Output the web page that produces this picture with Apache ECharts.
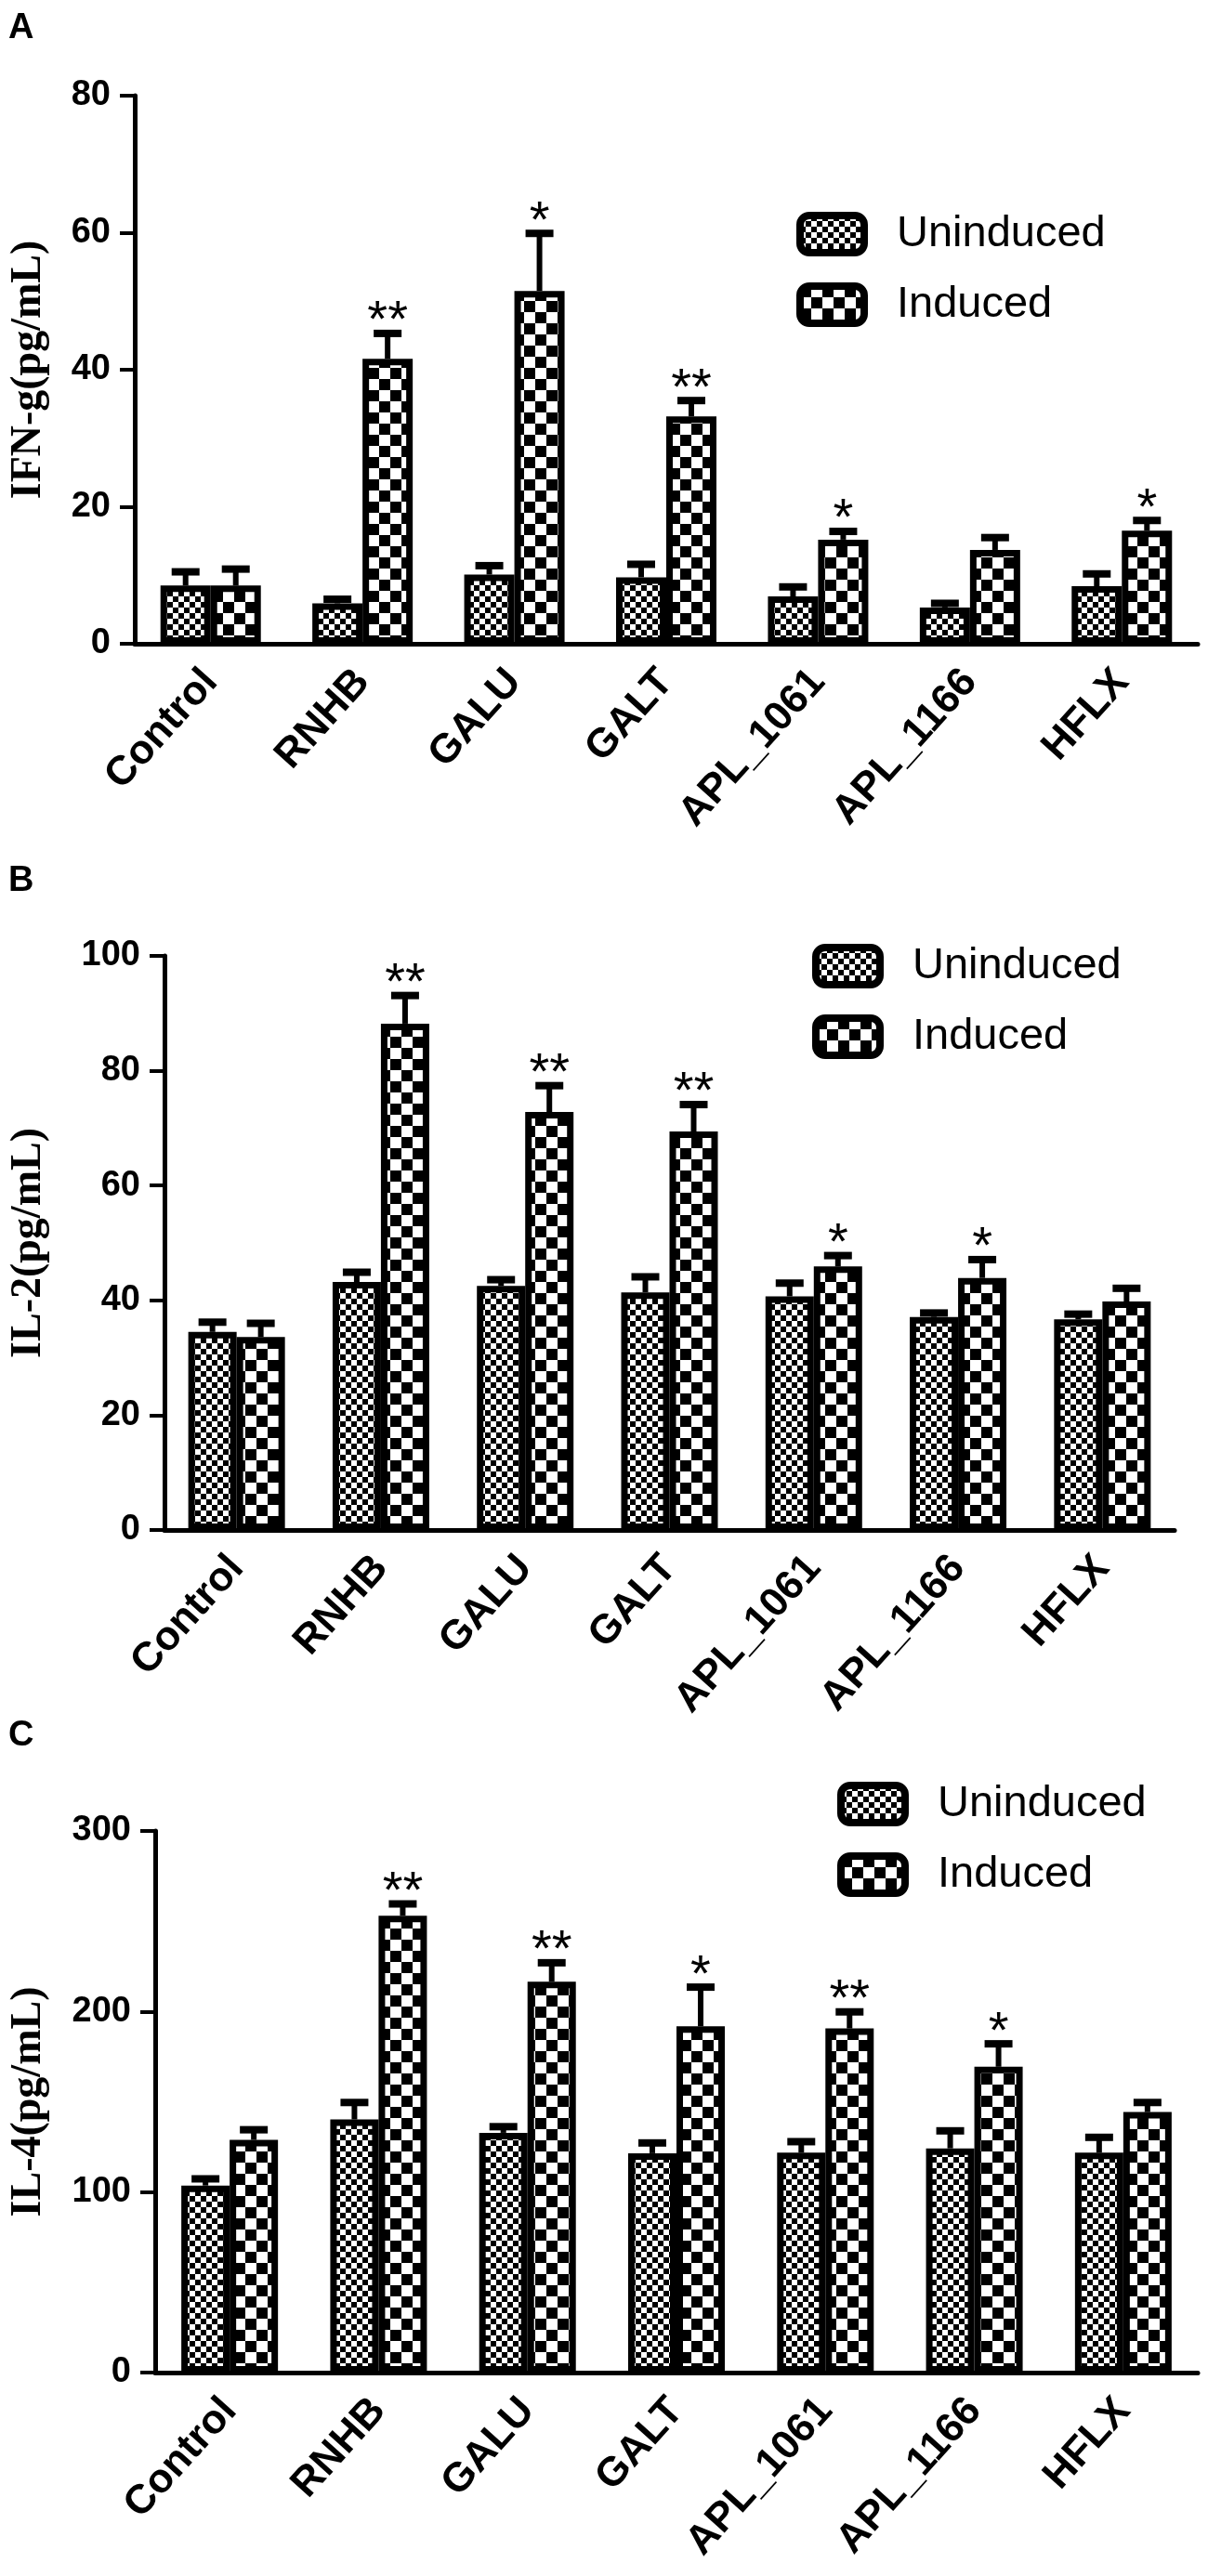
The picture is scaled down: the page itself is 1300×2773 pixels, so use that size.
<!DOCTYPE html>
<html>
<head>
<meta charset="utf-8">
<style>
html,body{margin:0;padding:0;background:#fff;}
#chart{width:1300px;height:2773px;}
</style>
<script src="https://cdn.jsdelivr.net/npm/echarts@6/dist/echarts.min.js"></script>
</head>
<body>
<div id="chart"></div>
<script>
// ---------- data ----------
const categories = ['Control', 'RNHB', 'GALU', 'GALT', 'APL_1061', 'APL_1166', 'HFLX'];
const seriesNames = ['Uninduced', 'Induced'];

// Panel A: IFN-g (pg/mL)
const ifnUninduced = [8.5, 5.9, 10.1, 9.7, 6.9, 5.3, 8.4];
const ifnUninducedSem = [2.0, 0.6, 1.3, 1.9, 1.4, 0.6, 1.8];
const ifnInduced = [8.5, 41.6, 51.5, 33.2, 15.2, 13.7, 16.5];
const ifnInducedSem = [2.4, 3.7, 8.4, 2.3, 1.2, 1.8, 1.5];
const ifnStars = ['', '**', '*', '**', '*', '', '*'];
const ifnTicks = [0, 20, 40, 60, 80];

// Panel B: IL-2 (pg/mL)
const il2Uninduced = [34.5, 43.2, 42.5, 41.4, 40.7, 37.1, 36.7];
const il2UninducedSem = [1.7, 1.7, 1.1, 2.7, 2.3, 0.7, 0.9];
const il2Induced = [33.6, 88.2, 72.8, 69.4, 45.9, 43.9, 39.8];
const il2InducedSem = [2.4, 4.9, 4.6, 4.7, 1.9, 3.2, 2.3];
const il2Stars = ['', '**', '**', '**', '*', '*', ''];
const il2Ticks = [0, 20, 40, 60, 80, 100];

// Panel C: IL-4 (pg/mL)
const il4Uninduced = [103.6, 140.2, 132.8, 121.5, 121.8, 124.2, 121.8];
const il4UninducedSem = [3.7, 9.4, 3.4, 5.7, 6.1, 9.7, 8.5];
const il4Induced = [128.9, 253.1, 216.5, 191.8, 190.6, 169.4, 144.3];
const il4InducedSem = [5.6, 6.5, 10.5, 21.7, 9.2, 12.7, 5.3];
const il4Stars = ['', '**', '**', '*', '**', '*', ''];
const il4Ticks = [0, 100, 200, 300];

// ---------- styling helpers ----------
function checker(size) {
  const c = document.createElement('canvas');
  c.width = c.height = size * 2;
  const g = c.getContext('2d');
  g.fillStyle = '#fff'; g.fillRect(0, 0, size * 2, size * 2);
  g.fillStyle = '#000';
  g.fillRect(0, 0, size, size);
  g.fillRect(size, size, size, size);
  return c;
}
const fineFill = { image: checker(6), repeat: 'repeat' };
const coarseFill = { image: checker(12), repeat: 'repeat' };

const SANS = 'Liberation Sans';
const SERIF = 'Liberation Serif';

const panels = [
  { letter: 'A', letterTop: 12, name: 'IFN-g(pg/mL)', grid: { left: 141, right: 11, top: 103, bottom: 2773 - 693 },
    ticks: ifnTicks, U: ifnUninduced, Us: ifnUninducedSem, I: ifnInduced, Is: ifnInducedSem, stars: ifnStars,
    bw: 54, nameGap: 91, legend: { left: 857, top: 228 } },
  { letter: 'B', letterTop: 930, name: 'IL-2(pg/mL)', grid: { left: 173, right: 36, top: 1029, bottom: 2773 - 1647 },
    ticks: il2Ticks, U: il2Uninduced, Us: il2UninducedSem, I: il2Induced, Is: il2InducedSem, stars: il2Stars,
    bw: 52, nameGap: 123, legend: { left: 874, top: 1016 } },
  { letter: 'C', letterTop: 1850, name: 'IL-4(pg/mL)', grid: { left: 163, right: 11, top: 1971, bottom: 2773 - 2554 },
    ticks: il4Ticks, U: il4Uninduced, Us: il4UninducedSem, I: il4Induced, Is: il4InducedSem, stars: il4Stars,
    bw: 52, nameGap: 113, legend: { left: 901, top: 1918 } }
];

const option = {
  backgroundColor: '#fff',
  animation: false,
  grid: [], xAxis: [], yAxis: [], series: [], legend: [], graphic: []
};

panels.forEach((p, k) => {
  option.grid.push(Object.assign({ containLabel: false }, p.grid));
  option.xAxis.push({
    type: 'category', gridIndex: k, data: categories,
    axisLine: { lineStyle: { color: '#000', width: 5 } },
    axisTick: { alignWithLabel: true, length: 16, lineStyle: { color: '#000', width: 4 } },
    axisLabel: { rotate: 48, interval: 0, margin: 34, fontSize: 44, fontWeight: 'bold', fontFamily: SANS, color: '#000' }
  });
  const mx = p.ticks[p.ticks.length - 1];
  option.yAxis.push({
    type: 'value', gridIndex: k, min: p.ticks[0], max: mx, interval: p.ticks[1] - p.ticks[0],
    name: p.name, nameLocation: 'middle', nameRotate: 90, nameGap: p.nameGap,
    nameTextStyle: { fontFamily: SERIF, fontWeight: 'bold', fontSize: 46, color: '#000' },
    splitLine: { show: false },
    axisLine: { show: true, lineStyle: { color: '#000', width: 5 } },
    axisTick: { show: true, length: 16, lineStyle: { color: '#000', width: 4 } },
    axisLabel: { margin: 26, fontSize: 38, fontWeight: 'bold', fontFamily: SANS, color: '#000' }
  });
  const groups = [
    { name: seriesNames[0], vals: p.U, sem: p.Us, fill: fineFill, side: -1, stars: null },
    { name: seriesNames[1], vals: p.I, sem: p.Is, fill: coarseFill, side: 1, stars: p.stars }
  ];
  groups.forEach(g => {
    option.series.push({
      type: 'bar', name: g.name, xAxisIndex: k, yAxisIndex: k,
      data: g.vals, barWidth: p.bw, barGap: '0%',
      itemStyle: { color: g.fill, borderColor: '#000', borderWidth: 7 },
      emphasis: { disabled: true }, z: 2
    });
    const errData = g.vals.map((v, i) => [i, v, g.sem[i], g.stars ? g.stars[i] : '']);
    const bw = p.bw;
    const side = g.side;
    option.series.push({
      type: 'custom', name: 'err_' + g.name + '_' + k, xAxisIndex: k, yAxisIndex: k,
      data: errData, encode: { x: 0, y: 1 }, z: 5, silent: true,
      renderItem: function (params, api) {
        const ci = api.value(0), v = api.value(1), s = api.value(2);
        const star = errData[params.dataIndex][3];
        const base = api.coord([ci, v]);
        const top = api.coord([ci, v + s]);
        const x = base[0] + side * bw / 2;
        const children = [
          { type: 'line', shape: { x1: x, y1: base[1], x2: x, y2: top[1] }, style: { stroke: '#000', lineWidth: 6 } },
          { type: 'line', shape: { x1: x - 15, y1: top[1], x2: x + 15, y2: top[1] }, style: { stroke: '#000', lineWidth: 8 } }
        ];
        if (star) {
          children.push({ type: 'text', style: { text: star, x: x, y: top[1] - 12,
            textAlign: 'center', textVerticalAlign: 'middle', font: '56px ' + SANS, fill: '#000' } });
        }
        return { type: 'group', children: children };
      }
    });
  });
  option.legend.push({
    data: seriesNames, orient: 'vertical', left: p.legend.left, top: p.legend.top, padding: 0,
    itemWidth: 69, itemHeight: 40, itemGap: 28, icon: 'roundRect', selectedMode: false,
    itemStyle: { borderColor: '#000', borderWidth: 8 },
    textStyle: { fontFamily: SANS, fontSize: 47, color: '#000', padding: [0, 0, 0, 30] }
  });
  option.graphic.push({
    type: 'text', left: 9, top: p.letterTop,
    style: { text: p.letter, font: 'bold 38px ' + SANS, fill: '#000' }
  });
});

const chart = echarts.init(document.getElementById('chart'));
chart.setOption(option);
</script>
</body>
</html>
